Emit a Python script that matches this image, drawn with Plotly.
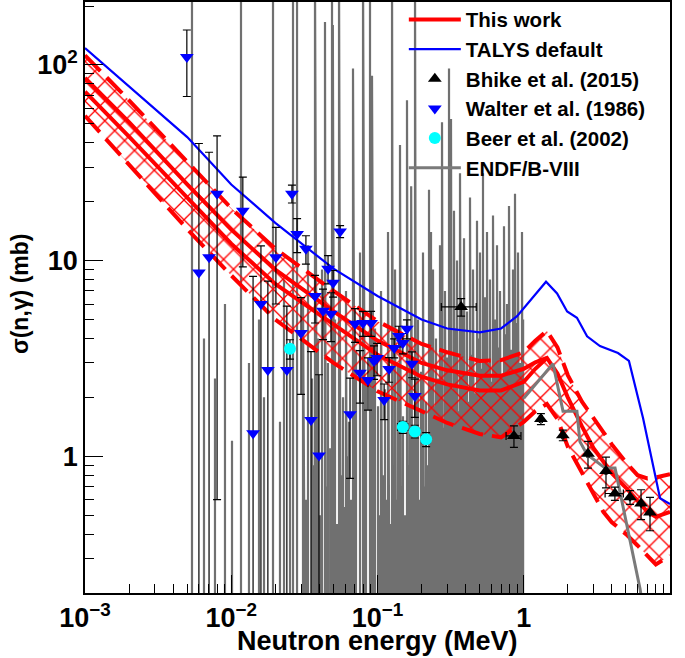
import plotly.graph_objects as go

# ---------------- data ----------------
# "This work" band: energies (MeV) and cross sections (mb)
E_BAND = [0.001, 0.002, 0.005, 0.01, 0.02, 0.05, 0.1, 0.2, 0.3, 0.5, 0.7, 1.0, 1.2, 1.44,
          1.7, 2.0, 2.5, 3.0, 3.5, 4.0, 5.0, 6.0, 7.0, 8.0, 10.0]
THIS_WORK = [86, 51, 24.5, 14.4, 9.0, 5.5, 3.9, 3.0, 2.75, 2.58, 2.58, 2.8, 3.02, 3.18,
             2.65, 2.0, 1.42, 1.1, 0.94, 0.82, 0.69, 0.59, 0.52, 0.49, 0.52]
BAND_UP = [112, 66, 32, 18.5, 11.5, 7.0, 4.9, 3.75, 3.4, 3.07, 3.1, 3.4, 3.9, 4.37,
           3.6, 2.6, 1.9, 1.55, 1.33, 1.15, 0.93, 0.8, 0.77, 0.78, 0.81]
BAND_LO = [55, 31, 14.5, 8.4, 5.0, 3.0, 2.15, 1.7, 1.48, 1.3, 1.25, 1.5, 1.7, 1.85,
           1.55, 1.12, 0.82, 0.64, 0.52, 0.46, 0.4, 0.35, 0.31, 0.28, 0.31]
E_WORK2 = [0.001, 0.002, 0.005, 0.01, 0.02, 0.05, 0.1, 0.2, 0.3, 0.5, 0.7, 1.0, 1.2, 1.44]
THIS_WORK2 = [73, 43, 21, 12.2, 7.6, 4.7, 3.3, 2.55, 2.33, 2.17, 2.17, 2.4, 2.8, 3.18]

# TALYS default
E_TALYS = [0.001, 0.002, 0.005, 0.01, 0.02, 0.05, 0.1, 0.2, 0.3, 0.5, 0.7, 0.9, 1.1, 1.42,
           1.69, 1.98, 2.31, 2.71, 3.32, 4.41, 5.24, 6.54, 8.55, 10.0]
TALYS = [122, 78, 42.8, 24.5, 15.6, 9.1, 6.6, 5.0, 4.5, 4.3, 4.5, 5.2, 6.2, 7.8,
         6.8, 5.5, 5.1, 4.1, 3.66, 3.37, 3.07, 1.57, 0.61, 0.57]

# Bhike et al. (2015)
BHIKE_E = [0.373, 0.857, 1.31, 1.85, 2.75, 3.65, 4.2, 5.33, 6.34, 7.3]
BHIKE_S = [5.8, 1.27, 1.55, 1.28, 1.03, 0.84, 0.645, 0.617, 0.574, 0.516]
BHIKE_DE = [0.1, 0.1, 0.03, 0.03, 0.05, 0.05, 0.6, 0.05, 0.05, 0.05]
BHIKE_DS = [0.6, 0.16, 0.1, 0.08, 0.16, 0.15, 0.05, 0.05, 0.1, 0.1]

# Walter et al. (1986)
WALTER_E = [0.00497, 0.00601, 0.00705, 0.0080, 0.0120, 0.0141, 0.01596, 0.0178, 0.0202,
            0.0240, 0.0260, 0.0282, 0.0300, 0.0324, 0.0351, 0.0374, 0.0398, 0.0424,
            0.0459, 0.0481, 0.0497, 0.0555, 0.0649, 0.0702, 0.0759, 0.0796, 0.0861,
            0.0904, 0.0947, 0.0993, 0.111, 0.120, 0.130, 0.140, 0.149, 0.159, 0.172, 0.180]
WALTER_S = [110, 8.7, 10.4, 22, 18, 1.31, 6.0, 2.76, 10.4, 2.76, 22, 13.7, 4.27, 11.5, 1.53,
            6.6, 1.01, 5.55, 9.1, 5.35, 7.7, 14.1, 1.64, 4.75, 2.67, 4.8, 2.45, 4.8, 3.07,
            3.18, 1.94, 2.79, 3.58, 4.12, 3.79, 4.48, 2.97, 2.03]
WALTER_DS = [41, 31, 25.4, 21.4, 8.7, 7.0, 5.9, 5.1, 4.4, 3.1, 2.3, 2.7, 2.2, 1.9, 1.9,
             1.8, 1.6, 1.6, 1.5, 1.5, 1.2, 1.0, 0.87, 0.93, 0.8, 0.7, 0.73, 0.7, 0.6,
             0.6, 0.4, 0.4, 0.4, 0.5, 0.45, 0.5, 0.45, 0.45]

# Beer et al. (2002)
BEER_E = [0.0252, 0.149, 0.180, 0.215]
BEER_S = [3.54, 1.41, 1.34, 1.22]
BEER_DE = [0.0, 0.012, 0.012, 0.015]
BEER_DS = [0.4, 0.1, 0.1, 0.1]

# ENDF/B-VIII : resolved resonances (energy, peak value) and smooth part above 1 MeV
ENDF_RES_E = [0.00539, 0.00651, 0.00774, 0.00906, 0.01012, 0.01166, 0.01322, 0.01548,
              0.01675, 0.0193, 0.02154, 0.02295, 0.02522, 0.02644, 0.02817,
              0.03095, 0.0325, 0.03348, 0.03566, 0.0362, 0.03737, 0.03919, 0.0405, 0.04174,
              0.04375, 0.0445, 0.04586, 0.0475, 0.04886, 0.0495, 0.05122, 0.0530, 0.05456,
              0.0565, 0.0581, 0.0595, 0.06089, 0.0625, 0.06385, 0.0660, 0.068, 0.07129,
              0.07593, 0.07961, 0.08346, 0.08887, 0.09172, 0.09614, 0.1008,
              0.1035, 0.1057, 0.1095, 0.1125, 0.1155, 0.118, 0.122, 0.1257, 0.1285, 0.1318,
              0.135, 0.1381, 0.1425, 0.146, 0.1494, 0.154, 0.1591, 0.163, 0.1668, 0.1699,
              0.1749, 0.1805, 0.185, 0.1892, 0.194, 0.1984, 0.201, 0.2047, 0.21, 0.2146,
              0.22, 0.225,
              0.2322, 0.2396, 0.2455, 0.2512, 0.2593, 0.2675, 0.2761, 0.2825, 0.2894,
              0.2987, 0.3083, 0.3181, 0.3255, 0.3335, 0.341, 0.3497, 0.358, 0.3666,
              0.3784, 0.3905, 0.40, 0.4093, 0.419, 0.4291, 0.44, 0.4499, 0.4642, 0.479,
              0.49, 0.5023, 0.514, 0.5265, 0.5433, 0.5607, 0.574, 0.5878, 0.6016, 0.6163,
              0.636, 0.6564, 0.672, 0.6881, 0.7101, 0.7328, 0.75, 0.7682, 0.7927, 0.8181,
              0.8443, 0.8713, 0.892, 0.9135, 0.9427, 0.9728, 0.99]
ENDF_RES_PEAK = [300, 4.0, 2.5, 6.0, 1.2, 300, 3.0, 5.0,
                 2.0, 300, 1.5, 8.0, 3.5, 300, 300,
                 6, 0.6, 12, 2.5, 0.9, 300, 4, 0.5, 9,
                 166, 0.7, 3, 1.1, 300, 160, 5, 0.45, 300,
                 0.8, 2, 0.55, 7, 1.0, 1.5, 0.6, 96, 3.5,
                 11, 300, 2.5, 300, 88, 4.5, 1.8,
                 0.5, 7, 0.8, 2.2, 0.6, 14, 0.45, 300, 0.9, 9,
                 0.6, 3, 39, 0.7, 1.6, 0.5, 66, 0.9, 4, 24,
                 1.3, 300, 0.8, 5, 0.6, 2.7, 1.0, 11, 0.7, 1.9,
                 0.9, 23,
                 14, 9, 1.8, 4, 2.5, 12, 51, 1.4, 7,
                 3.2, 96, 53, 2.2, 18, 4.5, 10, 1.7, 28,
                 6, 13, 2.6, 5.5, 1.9, 21, 3.3, 9, 2.1, 16,
                 4, 11, 2.8, 28, 6.5, 14, 3, 8, 2.4, 17,
                 5, 12, 3.6, 7, 2.6, 15, 4.2, 6, 19, 3.5,
                 9, 22, 4.8, 11, 3, 14, 5]
ENDF_VALLEY = 0.01
ENDF_E = [1.0, 1.585, 1.855, 2.31, 2.42, 2.71, 3.6, 4.21, 6.24, 7.0]
ENDF_S = [1.98, 2.97, 1.70, 1.70, 1.19, 1.02, 0.87, 0.87, 0.21, 0.12]

# axis ticks
X_TICKS = [0.001, 0.01, 0.1, 1, 10]
X_TICKTEXT = ["10<sup>\u22123</sup>", "10<sup>\u22122</sup>", "10<sup>\u22121</sup>", "1", "10"]
Y_TICKS = [1, 10, 100]
Y_TICKTEXT = ["1", "10", "10<sup>2</sup>"]

# ---------------- styles ----------------
FONT = "Liberation Sans, Arial, Helvetica, sans-serif"
GRAY = "#707070"
RED = "#ff0000"
BLUE = "#0000ff"

fig = go.Figure()

# ENDF resonances (drawn first)
pairs = sorted(zip(ENDF_RES_E, ENDF_RES_PEAK))
rx, ry = [], []
for e, p in pairs:
    rx += [e, e, e]
    ry += [ENDF_VALLEY, p, ENDF_VALLEY]
fig.add_trace(go.Scatter(x=rx, y=ry, mode="lines", line=dict(color=GRAY, width=2.2),
                         showlegend=False, hoverinfo="skip"))

# band fill (cross hatch)
fig.add_trace(go.Scatter(x=E_BAND, y=BAND_LO, mode="lines",
                         line=dict(color="rgba(0,0,0,0)", width=0),
                         showlegend=False, hoverinfo="skip"))
fig.add_trace(go.Scatter(x=E_BAND, y=BAND_UP, mode="lines",
                         line=dict(color="rgba(0,0,0,0)", width=0),
                         fill="tonexty", fillcolor="rgba(0,0,0,0)",
                         fillpattern=dict(shape="x", fgcolor=RED, bgcolor="rgba(0,0,0,0)",
                                          size=14, solidity=0.18, fgopacity=1),
                         showlegend=False, hoverinfo="skip"))
# dashed band edges
for arr in (BAND_UP, BAND_LO):
    fig.add_trace(go.Scatter(x=E_BAND, y=arr, mode="lines",
                             line=dict(color=RED, width=4, dash="22px,9px"),
                             showlegend=False, hoverinfo="skip"))
# second solid line
fig.add_trace(go.Scatter(x=E_WORK2, y=THIS_WORK2, mode="lines",
                         line=dict(color=RED, width=4), showlegend=False, hoverinfo="skip"))
# this work central
fig.add_trace(go.Scatter(x=E_BAND, y=THIS_WORK, mode="lines", name="This work",
                         line=dict(color=RED, width=4), legendrank=1))

# ENDF smooth part
fig.add_trace(go.Scatter(x=ENDF_E, y=ENDF_S, mode="lines", name="ENDF/B-VIII",
                         line=dict(color="#7a7a7a", width=3), legendrank=6))

# TALYS
fig.add_trace(go.Scatter(x=E_TALYS, y=TALYS, mode="lines", name="TALYS default",
                         line=dict(color=BLUE, width=2.2), legendrank=2))

err_style = dict(type="data", color="black", thickness=1.2, width=4)

fig.add_trace(go.Scatter(x=WALTER_E, y=WALTER_S, mode="markers", name="Walter et al. (1986)",
                         marker=dict(symbol="triangle-down", size=12, color=BLUE),
                         error_y=dict(array=WALTER_DS, **err_style), legendrank=4))
fig.add_trace(go.Scatter(x=BEER_E, y=BEER_S, mode="markers", name="Beer et al. (2002)",
                         marker=dict(symbol="circle", size=12, color="#00ffff"),
                         error_y=dict(array=BEER_DS, **err_style),
                         error_x=dict(array=BEER_DE, **err_style), legendrank=5))
fig.add_trace(go.Scatter(x=BHIKE_E, y=BHIKE_S, mode="markers", name="Bhike et al. (2015)",
                         marker=dict(symbol="triangle-up", size=12, color="black"),
                         error_y=dict(array=BHIKE_DS, **err_style),
                         error_x=dict(array=BHIKE_DE, **err_style), legendrank=3))

minor_x = [m * 10.0 ** k for k in range(-3, 1) for m in range(2, 10)]
minor_y = [m * 10.0 ** k for k in range(-1, 3) for m in range(2, 10)]

fig.update_layout(
    width=685, height=658,
    margin=dict(l=85, r=15, t=2, b=65, autoexpand=False),
    paper_bgcolor="white", plot_bgcolor="white",
    font=dict(family=FONT, color="black", size=17),
    showlegend=True,
    legend=dict(x=0.545, y=1.004, xanchor="left", yanchor="top",
                bgcolor="rgba(0,0,0,0)", borderwidth=0,
                font=dict(family=FONT, size=20.5, color="black", weight="bold"),
                tracegroupgap=0, itemwidth=52, traceorder="normal"),
    xaxis=dict(type="log", range=[-3, 1], showgrid=False, zeroline=False, automargin=False,
               showline=True, linecolor="black", linewidth=1.5, mirror=True,
               ticks="inside", ticklen=18, tickwidth=1.3, tickcolor="black",
               tickmode="array", tickvals=X_TICKS, ticktext=X_TICKTEXT,
               tickfont=dict(family=FONT, size=27, weight="bold"),
               minor=dict(tickmode="array", tickvals=minor_x, ticks="inside",
                          ticklen=9, tickwidth=1.3, tickcolor="black", showgrid=False)),
    yaxis=dict(type="log", range=[-0.699, 2.322], showgrid=False, zeroline=False,
               automargin=False,
               showline=True, linecolor="black", linewidth=1.5, mirror=True,
               ticks="inside", ticklen=18, tickwidth=1.3, tickcolor="black",
               tickmode="array", tickvals=Y_TICKS, ticktext=Y_TICKTEXT,
               tickfont=dict(family=FONT, size=27, weight="bold"),
               minor=dict(tickmode="array", tickvals=minor_y, ticks="inside",
                          ticklen=9, tickwidth=1.3, tickcolor="black", showgrid=False)),
    annotations=[
        dict(text="Neutron energy (MeV)", xref="paper", yref="paper", x=0.5, y=-0.082,
             xanchor="center", yanchor="middle", showarrow=False,
             font=dict(family=FONT, size=27, weight="bold")),
        dict(text="\u03c3(n,\u03b3) (mb)", xref="paper", yref="paper", x=-0.111, y=0.506,
             xanchor="center", yanchor="middle", showarrow=False, textangle=-90,
             font=dict(family=FONT, size=23, weight="bold")),
    ],
)

fig.write_html("out.html", config={"displayModeBar": False},
               post_script="document.body.style.margin='0';document.body.style.overflow='hidden';")
